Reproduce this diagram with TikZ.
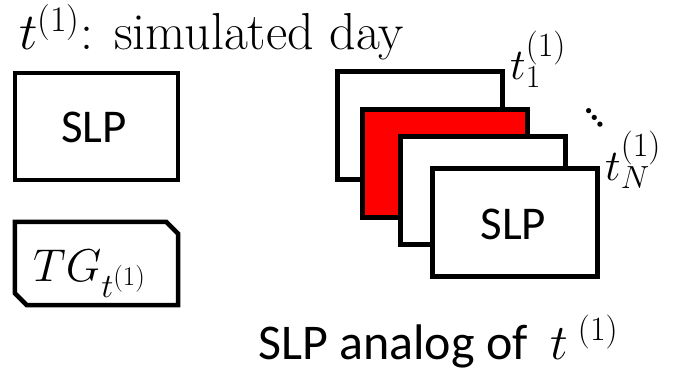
\RequirePackage{fix-cm}
\documentclass[tikz,border=0pt]{standalone}
\usepackage{fontspec}
\setsansfont{Carlito}
\newcommand{\fsz}[2]{\mbox{\fontsize{#1}{#1}\selectfont$#2$}}
\newcommand{\tsz}[2]{\mbox{\rmfamily\fontsize{#1}{#1}\selectfont #2}}
\definecolor{slpred}{RGB}{255,0,0}
\tikzset{
  slpbox/.style={draw=black, line width=5pt, fill=white, minimum width=165pt, minimum height=108pt, inner sep=0pt},
  leftbox/.style={draw=black, line width=4.5pt, fill=white, inner sep=0pt},
  sanslbl/.style={font=\sffamily\fontsize{47}{50}\selectfont, inner sep=0pt},
  mathlbl/.style={font=\fontsize{44}{48}\selectfont, inner sep=0pt},
  seriflbl/.style={font=\rmfamily\fontsize{52}{56}\selectfont, inner sep=0pt},
}
\begin{document}
\begin{tikzpicture}[x=1pt,y=1pt]
\useasboundingbox (0,0) rectangle (681,373);
% top title
\node[seriflbl, anchor=base west] (title) at (19,323) {$t^{\tsz{36}{(1)}}$: simulated day};
% left boxes
\node[leftbox, minimum width=163pt, minimum height=107pt] (slpbox) at (96.5,246.5) {};
\node[sanslbl] (slptext) at (94,246) {SLP};
\node[inner sep=0pt, minimum width=163pt, minimum height=83pt] (tgbox) at (96.5,109.5) {};
\draw[line width=4.5pt, line join=miter]
  (tgbox.north west) -- ([xshift=-12pt]tgbox.north east) -- ([yshift=-12pt]tgbox.north east)
  -- (tgbox.south east) -- ([xshift=12pt]tgbox.south west) -- ([yshift=12pt]tgbox.south west) -- cycle;
\node[mathlbl, font=\fontsize{46}{50}\selectfont, anchor=base west] (tgtext) at (33,92) {$TG_{\fsz{34}{t^{\tsz{27}{(1)}}}}$};
% stack of analog boxes
\node[slpbox] (b1) at (419.5,247) {};
\node[slpbox, fill=slpred] (b2) at (445,209.5) {};
\node[slpbox] (b3) at (483,182.25) {};
\node[slpbox] (b4) at (515.25,150.5) {};
\node[sanslbl] (b4text) at (513.5,148.5) {SLP};
% labels of the stack
\node[mathlbl, anchor=base west] (t1) at (510,293) {$t_{\tsz{32}{1}}^{\tsz{34}{(1)}}$};
\node[font=\rmfamily\bfseries\fontsize{36}{38}\selectfont, inner sep=0pt, rotate=-50] (dots) at (594.5,255) {\ldots};
\node[mathlbl, anchor=base west] (tN) at (605,193) {$t_{\fsz{32}{N}}^{\tsz{34}{(1)}}$};
% bottom caption
\node[sanslbl, font=\sffamily\fontsize{50}{54}\selectfont, anchor=base west] (caption) at (258,14) {SLP analog of\hspace{0.45em}$t^{\hspace{10pt}\tsz{34}{(1)}}$};
\end{tikzpicture}
\end{document}
